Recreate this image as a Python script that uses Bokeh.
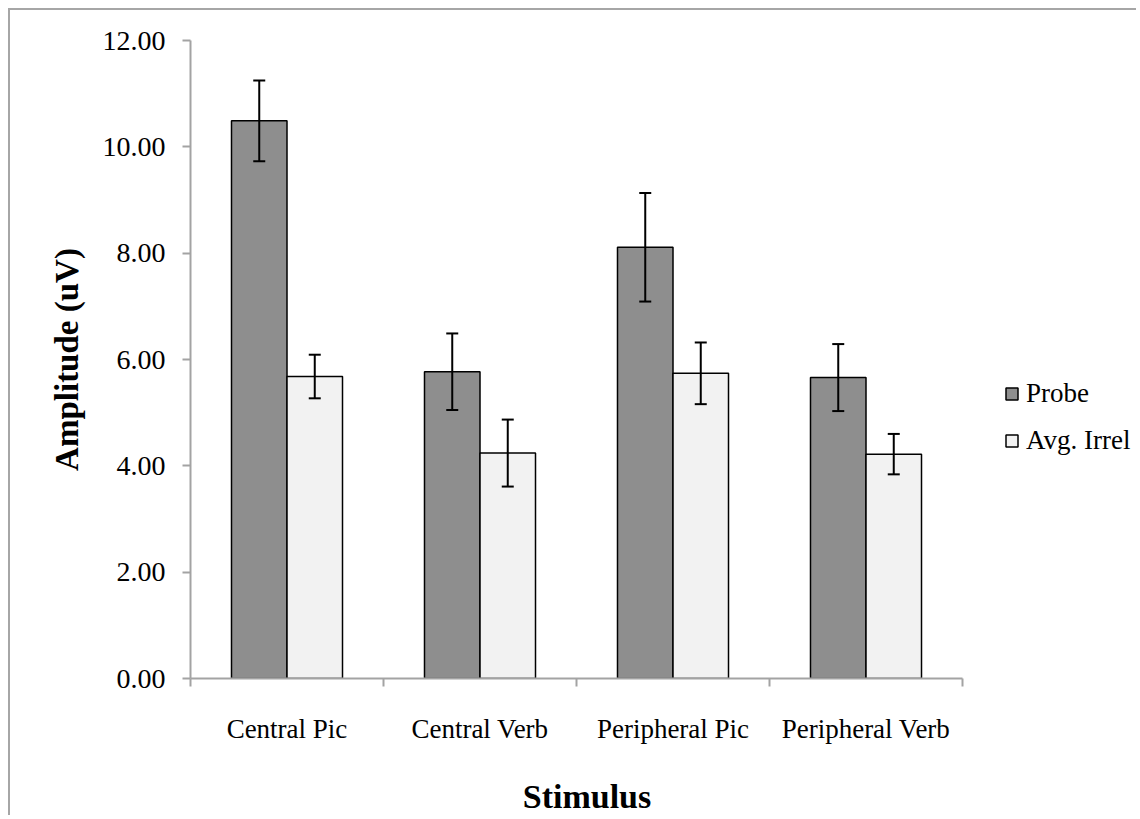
import numpy as np
from bokeh.plotting import figure
from bokeh.models import (ColumnDataSource, Whisker, TeeHead, FixedTicker,
                          NumeralTickFormatter, Legend, LegendItem, Range1d)
from bokeh.transform import dodge
from bokeh.embed import file_html
from bokeh.resources import INLINE

# ---- data ----
categories = ["Central Pic", "Central Verb", "Peripheral Pic", "Peripheral Verb"]
series_names = ["Probe", "Avg. Irrel"]
probe = [10.49, 5.77, 8.11, 5.66]
probe_err = [0.76, 0.72, 1.02, 0.63]
irrel = [5.68, 4.24, 5.74, 4.22]
irrel_err = [0.41, 0.63, 0.58, 0.38]
y_ticks = [0, 2, 4, 6, 8, 10, 12]
x_title = "Stimulus"
y_title = "Amplitude (uV)"

FONT = "Liberation Serif"
AXIS_GRAY = "#a3a3a3"

n = len(categories)
centers = np.arange(n) + 0.5
src = ColumnDataSource(dict(
    xc=centers,
    probe=probe,
    probe_lo=np.array(probe) - np.array(probe_err),
    probe_hi=np.array(probe) + np.array(probe_err),
    irrel=irrel,
    irrel_lo=np.array(irrel) - np.array(irrel_err),
    irrel_hi=np.array(irrel) + np.array(irrel_err),
))

# layout: the category axis occupies 772px of a 946px-wide frame; the rest holds the legend
AXIS_PX, FRAME_PX = 772, 946
x_end = n * FRAME_PX / AXIS_PX

p = figure(width=1128, height=807, x_range=Range1d(0, x_end), y_range=Range1d(0, 12),
           output_backend="svg", toolbar_location=None,
           min_border_left=180, min_border_right=2, min_border_top=30, min_border_bottom=139)
p.styles = {"margin-left": "8px", "margin-top": "8px",
            "border-left": "2px solid #a6a6a6", "border-top": "2px solid #a6a6a6"}
p.outline_line_color = None
p.xgrid.visible = False
p.ygrid.visible = False
p.background_fill_color = "white"
p.border_fill_color = "white"

bw = 0.2876
off = bw / 2
r_probe = p.vbar(x=dodge("xc", -off, range=p.x_range), top="probe", width=bw, source=src,
                 fill_color="#8e8e8e", line_color="black", line_width=1.5)
r_irrel = p.vbar(x=dodge("xc", off, range=p.x_range), top="irrel", width=bw, source=src,
                 fill_color="#f2f2f2", line_color="black", line_width=1.5)

for col, sign in (("probe", -1), ("irrel", 1)):
    w = Whisker(base=dodge("xc", sign * off, range=p.x_range), lower=col + "_lo", upper=col + "_hi",
                source=src, line_color="black", line_width=2, level="overlay",
                upper_head=TeeHead(size=12, line_width=2, line_color="black"),
                lower_head=TeeHead(size=12, line_width=2, line_color="black"))
    p.add_layout(w)

# x axis
xa = p.xaxis[0]
xa.bounds = (0, n)
xa.ticker = FixedTicker(ticks=list(centers), minor_ticks=list(range(n + 1)))
xa.major_label_overrides = {float(c): lab for c, lab in zip(centers, categories)}
xa.major_tick_line_color = None
xa.major_tick_in = 0
xa.major_tick_out = 0
xa.minor_tick_in = 0
xa.minor_tick_out = 8
xa.minor_tick_line_color = AXIS_GRAY
xa.minor_tick_line_width = 2
xa.axis_line_color = AXIS_GRAY
xa.axis_line_width = 2
xa.major_label_text_font = FONT
xa.major_label_text_font_size = "27px"
xa.major_label_text_color = "black"
xa.major_label_standoff = 27

# the axis label is centred on the whole frame; trailing no-break spaces shift the
# visible word back under the category axis
LABEL_PX = 34
pad = int(round((FRAME_PX - AXIS_PX - 18) / (0.25 * LABEL_PX)))
xa.axis_label = x_title + "\u00a0" * pad
xa.axis_label_text_font = FONT
xa.axis_label_text_font_style = "bold"
xa.axis_label_text_font_size = f"{LABEL_PX}px"
xa.axis_label_text_color = "black"
xa.axis_label_standoff = 31

# y axis
ya = p.yaxis[0]
ya.ticker = FixedTicker(ticks=y_ticks)
ya.formatter = NumeralTickFormatter(format="0.00")
ya.major_tick_in = 0
ya.major_tick_out = 8
ya.major_tick_line_color = AXIS_GRAY
ya.major_tick_line_width = 2
ya.minor_tick_line_color = None
ya.axis_line_color = AXIS_GRAY
ya.axis_line_width = 2
ya.major_label_text_font = FONT
ya.major_label_text_font_size = "28px"
ya.major_label_text_color = "black"
ya.major_label_standoff = 17
ya.axis_label = y_title
ya.axis_label_text_font = FONT
ya.axis_label_text_font_style = "bold"
ya.axis_label_text_font_size = "33px"
ya.axis_label_text_color = "black"
ya.axis_label_standoff = 15

legend = Legend(items=[LegendItem(label=series_names[0], renderers=[r_probe]),
                       LegendItem(label=series_names[1], renderers=[r_irrel])],
                location=(814, 222), orientation="vertical",
                glyph_width=15, glyph_height=15, label_height=15, label_standoff=7,
                spacing=16, padding=0, margin=0,
                border_line_color=None, background_fill_alpha=0,
                label_text_font=FONT, label_text_font_size="27px", label_text_color="black")
p.add_layout(legend)

open("out.html", "w").write(file_html(p, INLINE))
